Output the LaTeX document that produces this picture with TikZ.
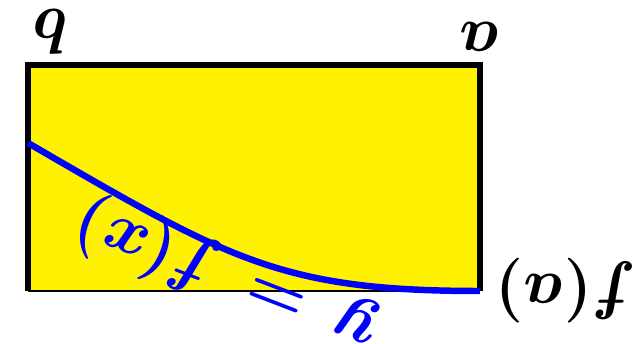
\documentclass[tikz,border=0pt]{standalone}
\usepackage{amsmath}
\usepackage{bm}
\usepackage{tikz}
\usetikzlibrary{calc}

\tikzset{
  lbl/.style={scale=1.85, rotate=180, inner sep=0pt},
}

\begin{document}
\begin{tikzpicture}
  \useasboundingbox (-0.7,-1.325) rectangle (15.25,7.275);

  \coordinate (A) at (0,0);
  \coordinate (B) at (11.3,0);
  \coordinate (C) at (11.3,5.65);
  \coordinate (D) at (0,5.65);
  \coordinate (P) at (0,3.7);

  \fill[yellow] (A) rectangle (C);
  \draw[line width=1.4pt] (A) -- (B);
  \draw[line width=4.4pt] (A) -- (D) -- (C) -- (B);

  \draw[blue, line width=4.6pt]
    (P) .. controls (5,0.8) and (6.3,0) .. (B);

  \node[lbl] (lb) at (0.6,6.475) {\Huge $\bm{b}$};
  \node[lbl] (la) at (11.3,6.35) {\Huge $\bm{a}$};
  \node[lbl] (lfa) at (13.45,0) {\Huge $\bm{f(a)}$};
  \node[lbl, blue, scale=1.05, rotate=-21] (lf) at (4.95,0.36)
    {\Huge $\bm{y \:=\: f(x)}$};
\end{tikzpicture}
\end{document}
